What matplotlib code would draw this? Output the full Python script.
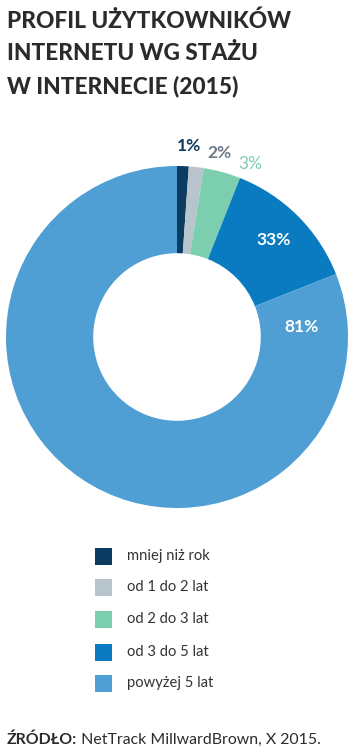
import numpy as np
import matplotlib
matplotlib.use("Agg")
import matplotlib.pyplot as plt
from matplotlib.patches import Rectangle

# ---- data ----
title_lines = ["PROFIL UŻYTKOWNIKÓW", "INTERNETU WG STAŻU", "W INTERNECIE (2015)"]
categories = ["mniej niż rok", "od 1 do 2 lat", "od 2 do 3 lat", "od 3 do 5 lat", "powyżej 5 lat"]
shares = [1.1, 1.4, 3.5, 13.0, 81.0]          # slice sizes as drawn
value_labels = ["1%", "2%", "3%", "33%", "81%"]  # labels as printed
colors = ["#0d3c62", "#b8c4cc", "#7ccfae", "#0a7bc0", "#4f9fd4"]
label_colors = ["#0d3c62", "#6b7987", "#7ccfae", "#ffffff", "#ffffff"]
label_weights = ["bold", "bold", "normal", "bold", "bold"]
source_bold = "ŹRÓDŁO:"
source_text = " NetTrack MillwardBrown, X 2015."

W, H = 358, 755
fig = plt.figure(figsize=(W / 100, H / 100), dpi=100)
fig.patch.set_facecolor("white")
FONT = "Lato"
TXT = "#2b2b2b"

def fx(px):
    return px / W

def fy(py):
    return 1 - py / H

# title
for i, line in enumerate(title_lines):
    fig.text(fx(7), fy(28 + i * 32.5), line, fontsize=16.3, fontweight="black",
             family=FONT, color=TXT, ha="left", va="baseline")

# donut
cx, cy, R = 177, 337, 171
ax = fig.add_axes([fx(cx - R), fy(cy + R), 2 * R / W, 2 * R / H])
wedges, _ = ax.pie(shares, colors=colors, startangle=90, counterclock=False,
                   radius=1.0, wedgeprops=dict(width=0.51, edgecolor="none"))
ax.set_xlim(-1, 1)
ax.set_ylim(-1, 1)
ax.set_aspect("equal")
ax.axis("off")

# label placement relative to each wedge: radius and angular shift (deg) from mid-angle
label_r = [1.12, 1.105, 1.10, 0.80, 0.73]
label_shift = [-1.6, -6.5, -7.5, 0.0, 129.0]
for w, lab, lc, lw, r, sh in zip(wedges, value_labels, label_colors, label_weights,
                                 label_r, label_shift):
    ang = 0.5 * (w.theta1 + w.theta2) + sh
    a = np.deg2rad(ang)
    ax.text(r * np.cos(a), r * np.sin(a), lab, ha="center", va="center",
            fontsize=12.5, fontweight=lw, color=lc, family=FONT)

# legend
rows_y = [556, 587, 619, 652, 683]
for yy, cat, col in zip(rows_y, categories, colors):
    fig.patches.append(Rectangle((fx(95), fy(yy + 8.5)), 17 / W, 17 / H,
                                 transform=fig.transFigure, facecolor=col,
                                 edgecolor="none"))
    fig.text(fx(127), fy(yy), cat, fontsize=10.6, family=FONT, color="#333333",
             ha="left", va="center")

# source
t = fig.text(fx(7), fy(740), source_bold, fontsize=11.4, fontweight="bold",
             family=FONT, color=TXT, ha="left", va="center")
fig.canvas.draw()
bb = t.get_window_extent()
fig.text(bb.x1 / W, fy(740), source_text, fontsize=11.4, family=FONT,
         color=TXT, ha="left", va="center")

fig.savefig("out.png", dpi=100, facecolor="white")
